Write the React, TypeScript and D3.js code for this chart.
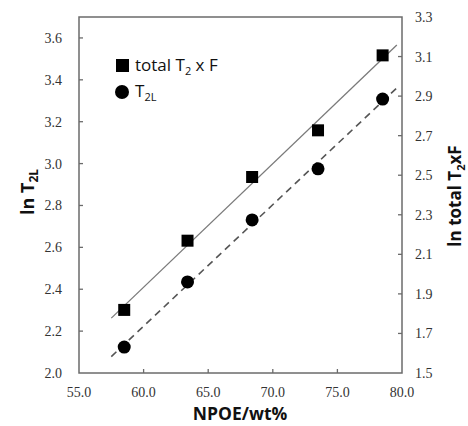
import React from 'react'
import * as d3 from 'd3'

// NPOE content (wt%)
const npoe = [58.5, 63.4, 68.4, 73.5, 78.5]
// ln total T2 x F (right axis)
const lnTotalT2F = [1.819, 2.169, 2.491, 2.727, 3.106]
// ln T2L (left axis)
const lnT2L = [2.124, 2.435, 2.731, 2.975, 3.308]

const xTicks = [55, 60, 65, 70, 75, 80]
const leftTicks = [2.0, 2.2, 2.4, 2.6, 2.8, 3.0, 3.2, 3.4, 3.6]
const rightTicks = [1.5, 1.7, 1.9, 2.1, 2.3, 2.5, 2.7, 2.9, 3.1, 3.3]
const fitRange = [57.5, 79.6]

const W = 468
const H = 426
const m = { left: 79, right: 402, top: 17, bottom: 373 }

const fit = (xs: number[], ys: number[]) => {
  const mx = d3.mean(xs)!
  const my = d3.mean(ys)!
  const sxy = d3.sum(xs, (x, i) => (x - mx) * (ys[i] - my))
  const sxx = d3.sum(xs, x => (x - mx) ** 2)
  const b = sxy / sxx
  return (x: number) => my + b * (x - mx)
}

const App = () => {
  const x = d3.scaleLinear().domain([55, 80]).range([m.left, m.right])
  const yL = d3.scaleLinear().domain([2.0, 3.7]).range([m.bottom, m.top])
  const yR = d3.scaleLinear().domain([1.5, 3.3]).range([m.bottom, m.top])

  const fitSq = fit(npoe, lnTotalT2F)
  const fitCi = fit(npoe, lnT2L)

  const lineR = d3.line<number>().x(d => x(d)).y(d => yR(fitSq(d)))
  const lineL = d3.line<number>().x(d => x(d)).y(d => yL(fitCi(d)))

  const axisColor = '#6b6b6b'
  const tickFont = { fontFamily: '"Liberation Serif", serif', fontSize: 14, fill: '#333' }
  const titleFont = { fontFamily: '"Open Sans", sans-serif', fontWeight: 700, fontSize: 17, fill: '#111' }
  const sq = 12

  return (
    <svg width={W} height={H} style={{ position: 'absolute', left: 0, top: 0, background: '#fff' }}>
      {/* frame */}
      <rect x={m.left} y={m.top} width={m.right - m.left} height={m.bottom - m.top}
        fill="none" stroke={axisColor} strokeWidth={1.5} />

      {/* x ticks */}
      {xTicks.map(t => (
        <g key={'x' + t}>
          {t > 55 && t < 80 && <line x1={x(t)} x2={x(t)} y1={m.bottom} y2={m.bottom - 4} stroke={axisColor} strokeWidth={1.3} />}
          <text x={x(t)} y={397} textAnchor="middle" {...tickFont}>{t.toFixed(1)}</text>
        </g>
      ))}

      {/* left ticks */}
      {leftTicks.map(t => (
        <g key={'l' + t}>
          {t > 2.0 && <line x1={m.left} x2={m.left + 4} y1={yL(t)} y2={yL(t)} stroke={axisColor} strokeWidth={1.3} />}
          <text x={62} y={yL(t) + 5} textAnchor="end" {...tickFont}>{t.toFixed(1)}</text>
        </g>
      ))}

      {/* right ticks */}
      {rightTicks.map(t => (
        <g key={'r' + t}>
          {t > 1.5 && t < 3.3 && <line x1={m.right} x2={m.right - 4} y1={yR(t)} y2={yR(t)} stroke={axisColor} strokeWidth={1.3} />}
          <text x={415} y={yR(t) + 5} textAnchor="start" {...tickFont}>{t.toFixed(1)}</text>
        </g>
      ))}

      {/* fit lines */}
      <path d={lineR(fitRange)!} fill="none" stroke="#7a7a7a" strokeWidth={1.3} />
      <path d={lineL(fitRange)!} fill="none" stroke="#555" strokeWidth={1.6} strokeDasharray="7,5" />

      {/* markers */}
      {npoe.map((v, i) => (
        <rect key={'s' + i} x={x(v) - sq / 2} y={yR(lnTotalT2F[i]) - sq / 2} width={sq} height={sq} fill="#000" />
      ))}
      {npoe.map((v, i) => (
        <circle key={'c' + i} cx={x(v)} cy={yL(lnT2L[i])} r={6.5} fill="#000" />
      ))}

      {/* legend */}
      <rect x={116} y={59} width={13} height={13} fill="#000" />
      <text x={135} y={71} fontFamily='"Open Sans", sans-serif' fontSize={17} fill="#111">
        total T<tspan fontSize={11} dy={4}>2</tspan><tspan dy={-4}> x F</tspan>
      </text>
      <circle cx={122} cy={92} r={7} fill="#000" />
      <text x={135} y={97} fontFamily='"Open Sans", sans-serif' fontSize={17} fill="#111">
        T<tspan fontSize={11} dy={4}>2L</tspan>
      </text>

      {/* axis titles */}
      <text x={240} y={420} textAnchor="middle" {...titleFont} fontSize={17.5}>NPOE/wt%</text>
      <text transform="translate(34,192) rotate(-90)" textAnchor="middle" {...titleFont} fontSize={18}>
        ln T<tspan fontSize={12} dy={4}>2L</tspan>
      </text>
      <text transform="translate(461,196) rotate(-90)" textAnchor="middle" {...titleFont}>
        ln total T<tspan fontSize={11} dy={4}>2</tspan><tspan dy={-4}>xF</tspan>
      </text>
    </svg>
  )
}

export default App
